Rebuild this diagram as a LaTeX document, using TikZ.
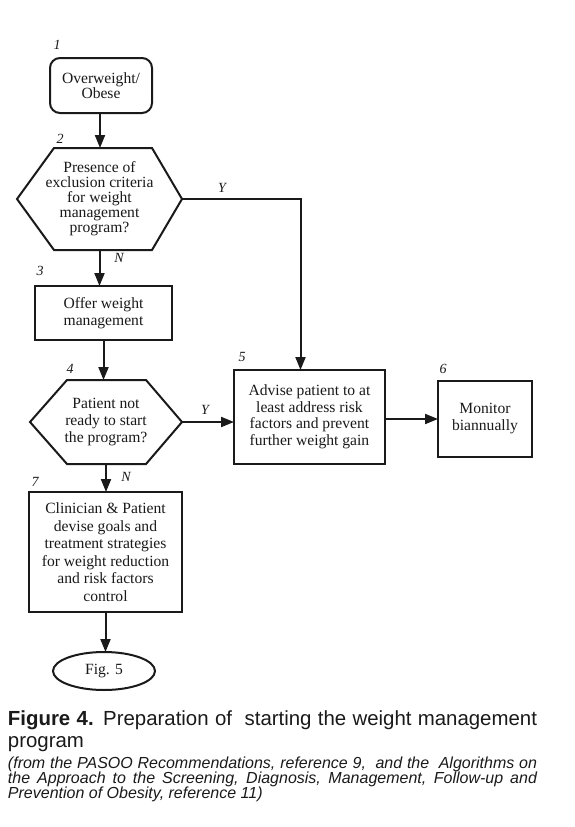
\documentclass[tikz,border=0pt]{standalone}
\usepackage{fontspec}
\setmainfont{Liberation Serif}
\newfontfamily\capfont{Liberation Sans}
\usetikzlibrary{arrows.meta,shapes.geometric,calc}
\definecolor{ink}{HTML}{1A1A1A}
\begin{document}
\begin{tikzpicture}[x=1pt,y=-1pt,
  every node/.style={inner sep=0pt,outer sep=0pt,text=ink},
  txt/.style={align=center,font=\fontsize{15.6}{#1}\selectfont},
  txt/.default=16.5,
  boxline/.style={draw=ink,line width=2pt},
  num/.style={font=\fontsize{14}{14}\selectfont\itshape},
  arr/.style={draw=ink,line width=2pt,-{Triangle[length=13pt,width=10pt]}},
  capline/.style={anchor=base west,font=\capfont\fontsize{20.4}{22}\selectfont},
  refline/.style={anchor=base west,font=\capfont\fontsize{16}{15}\selectfont\itshape}
]
\path[fill=white,use as bounding box] (0,0) rectangle (575,827);

% nodes
\node[txt=14,boxline,rounded corners=10pt,minimum width=102pt,minimum height=55pt] (n1) at (101,85.5) {Overweight/\\Obese};
\node[txt=15,minimum width=165pt,minimum height=102pt] (n2) at (99.5,199) {Presence of\\exclusion criteria\\for weight\\management\\program?};
\draw[boxline] (n2.west) -- ([xshift=37pt]n2.north west) -- ([xshift=-30pt]n2.north east) -- (n2.east) -- ([xshift=-30pt]n2.south east) -- ([xshift=37pt]n2.south west) -- cycle;
\node[txt=16.5,boxline,minimum width=137pt,minimum height=54pt] (n3) at (103.5,313) {Offer weight\\management};
\node[txt=17,minimum width=152pt,minimum height=84pt] (n4) at (106,422) {Patient not\\ready to start\\the program?};
\draw[boxline] (n4.west) -- ([xshift=37pt]n4.north west) -- ([xshift=-36pt]n4.north east) -- (n4.east) -- ([xshift=-36pt]n4.south east) -- ([xshift=37pt]n4.south west) -- cycle;
\node[txt=16.5,boxline,minimum width=151pt,minimum height=94pt] (n5) at (309.5,417) {Advise patient to at\\least address risk\\factors and prevent\\further weight gain};
\node[txt=17,boxline,minimum width=94pt,minimum height=76pt] (n6) at (485,419) {Monitor\\biannually};
\node[txt=17.5,boxline,minimum width=153pt,minimum height=120pt] (n7) at (105.5,552) {Clinician \& Patient\\devise goals and\\treatment strategies\\for weight reduction\\and risk factors\\control};
\node[txt,boxline,ellipse,minimum width=102pt,minimum height=38pt] (n8) at (104,671) {Fig. 5};

% numbers and labels
\node[num] (l1) at (57,45) {1};
\node[num] (l2) at (60,139) {2};
\node[num] (l3) at (40,271) {3};
\node[num] (l4) at (70,369) {4};
\node[num] (l5) at (242,357) {5};
\node[num] (l6) at (443,369) {6};
\node[num] (l7) at (35,482) {7};
\node[num] (y1) at (222,188) {Y};
\node[num] (y2) at (205,410) {Y};
\node[num] (no1) at (119,258) {N};
\node[num] (no2) at (126,477) {N};

% connectors
\draw[arr] ([xshift=-1pt]n1.south) -- ([xshift=-1pt]n1.south |- n2.north);
\draw[arr] (n2.south) -- (n2.south |- n3.north);
\draw[arr] (n2.east) -| ([xshift=-9pt]n5.north);
\draw[arr] (n3.south) -- (n3.south |- n4.north);
\draw[arr] (n4.east) -- (n4.east -| n5.west);
\draw[arr] (n5.east |- n6.west) -- (n6.west);
\draw[arr] (n4.south) -- (n4.south |- n7.north);
\draw[arr] (n7.south) -- (n7.south |- n8.north);

% caption
\node[capline] (c1) at (8,725) {\makebox[529pt][s]{\textbf{Figure 4.} Preparation of\ \ starting the weight management}};
\node[capline] (c2) at (8,747) {program};
\node[refline] (r1) at (8,768) {\makebox[529pt][s]{(from the PASOO Recommendations, reference 9,\ \ and the\ \ Algorithms on}};
\node[refline] (r2) at (8,783) {\makebox[529pt][s]{the Approach to the Screening, Diagnosis, Management, Follow-up and}};
\node[refline] (r3) at (8,798) {Prevention of Obesity, reference 11)};
\end{tikzpicture}
\end{document}
